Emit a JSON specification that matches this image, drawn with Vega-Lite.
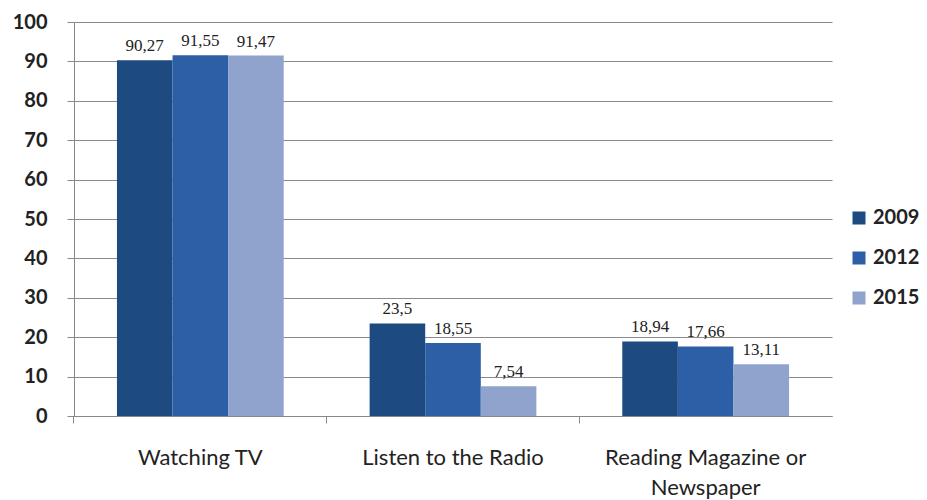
{
  "$schema": "https://vega.github.io/schema/vega-lite/v6.json",
  "autosize": "none",
  "width": 758,
  "height": 394,
  "padding": {"left": 74, "top": 22, "right": 95, "bottom": 84},
  "background": "white",
  "data": {
    "values": [
      {"activity": "Watching TV", "year": "2009", "value": 90.27, "label": "90,27"},
      {"activity": "Watching TV", "year": "2012", "value": 91.55, "label": "91,55"},
      {"activity": "Watching TV", "year": "2015", "value": 91.47, "label": "91,47"},
      {"activity": "Listen to the Radio", "year": "2009", "value": 23.5, "label": "23,5"},
      {"activity": "Listen to the Radio", "year": "2012", "value": 18.55, "label": "18,55"},
      {"activity": "Listen to the Radio", "year": "2015", "value": 7.54, "label": "7,54"},
      {"activity": "Reading Magazine or Newspaper", "year": "2009", "value": 18.94, "label": "18,94"},
      {"activity": "Reading Magazine or Newspaper", "year": "2012", "value": 17.66, "label": "17,66"},
      {"activity": "Reading Magazine or Newspaper", "year": "2015", "value": 13.11, "label": "13,11"}
    ]
  },
  "encoding": {
    "x": {
      "field": "activity",
      "type": "nominal",
      "sort": null,
      "scale": {"paddingInner": 0.34, "paddingOuter": 0.17},
      "axis": {
        "title": null,
        "labelAngle": 0,
        "labelFont": "Lato",
        "labelFontSize": 22,
        "labelColor": "#222222",
        "labelPadding": 24,
        "labelLineHeight": 30,
        "labelBaseline": "top",
        "labelLimit": 0,
        "tickSize": 7,
        "tickColor": "#888888",
        "domainColor": "#888888",
        "bandPosition": -0.2576,
        "labelExpr": "datum.value == 'Reading Magazine or Newspaper' ? ['Reading Magazine or', 'Newspaper'] : datum.label"
      }
    },
    "xOffset": {"field": "year", "type": "nominal", "scale": {"paddingInner": 0, "paddingOuter": 0}},
    "y": {
      "field": "value",
      "type": "quantitative",
      "scale": {"domain": [0, 100], "nice": false},
      "axis": {
        "title": null,
        "values": [0, 10, 20, 30, 40, 50, 60, 70, 80, 90, 100],
        "labelFont": "Lato",
        "labelFontWeight": "bold",
        "labelFontSize": 20,
        "labelColor": "#222222",
        "labelPadding": 20,
        "tickSize": 7,
        "tickColor": "#888888",
        "domainColor": "#888888",
        "gridColor": "#8a8a8a",
        "gridWidth": 1
      }
    }
  },
  "layer": [
    {
      "mark": {"type": "bar"},
      "encoding": {
        "color": {
          "field": "year",
          "type": "nominal",
          "scale": {"domain": ["2009", "2012", "2015"], "range": ["#1d4a80", "#2c5fa6", "#8fa3cc"]},
          "legend": {
            "title": null,
            "orient": "none",
            "legendX": 775,
            "legendY": 186,
            "symbolType": "square",
            "symbolSize": 169,
            "symbolStrokeWidth": 0,
            "labelFont": "Lato",
            "labelFontSize": 20,
            "labelFontWeight": "bold",
            "labelColor": "#222222",
            "rowPadding": 20,
            "labelOffset": 4
          }
        }
      }
    },
    {
      "mark": {"type": "text", "font": "Liberation Serif", "fontSize": 17, "baseline": "bottom", "dy": -5, "color": "#222222"},
      "encoding": {"text": {"field": "label", "type": "nominal"}}
    }
  ],
  "config": {"view": {"stroke": null}}
}
